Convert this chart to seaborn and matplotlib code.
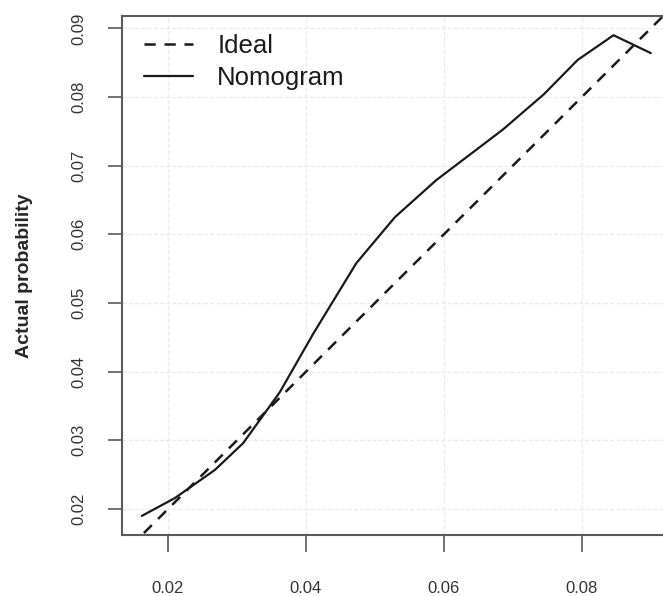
import matplotlib
matplotlib.use("Agg")
import matplotlib.pyplot as plt
import seaborn as sns
import pandas as pd

ideal_x = [0.0165, 0.0925]
ideal_y = [0.0165, 0.0925]
nomo_x = [0.0162, 0.0210, 0.0268, 0.0309, 0.0362, 0.0411, 0.0473, 0.0529,
          0.0589, 0.0652, 0.0686, 0.0745, 0.0794, 0.0846, 0.0900]
nomo_y = [0.0190, 0.0216, 0.0257, 0.0296, 0.0370, 0.0456, 0.0558, 0.0625,
          0.0679, 0.0727, 0.0753, 0.0804, 0.0854, 0.0890, 0.0864]
x_ticks = [0.02, 0.04, 0.06, 0.08]
y_ticks = [0.02, 0.03, 0.04, 0.05, 0.06, 0.07, 0.08, 0.09]
y_label = "Actual probability"

sns.set_style("white")
plt.rcParams['font.family'] = ['Liberation Sans', 'DejaVu Sans']

W, H = 663, 596
fig = plt.figure(figsize=(W / 100, H / 100), dpi=100)
left, right, top, bottom = 122, 668, 16, 535
ax = fig.add_axes([left / W, (H - bottom) / H, (right - left) / W, (bottom - top) / H])

df_ideal = pd.DataFrame({"x": ideal_x, "y": ideal_y})
df_nomo = pd.DataFrame({"x": nomo_x, "y": nomo_y})

sns.lineplot(data=df_ideal, x="x", y="y", ax=ax, color="#1a1a1a", lw=1.8,
             linestyle=(0, (4.5, 3.5)), sort=False, label="Ideal")
sns.lineplot(data=df_nomo, x="x", y="y", ax=ax, color="#1a1a1a", lw=1.6,
             sort=False, label="Nomogram")

ax.set_xlim(0.01333, 0.0925)
ax.set_ylim(0.01622, 0.0918)
ax.set_xticks(x_ticks)
ax.set_xticklabels([f"{v:.2f}" for v in x_ticks])
ax.set_yticks(y_ticks)
ax.set_yticklabels([f"{v:.2f}" for v in y_ticks], rotation=90, va="center")

ax.grid(True, color="#ebebeb", lw=1.0, linestyle=(0, (3, 1.5)))
ax.set_axisbelow(True)

for s in ["left", "bottom", "top", "right"]:
    ax.spines[s].set_color("#5a5a5a")
    ax.spines[s].set_linewidth(1.5)

ax.tick_params(axis="x", length=12, width=1.2, color="#5a5a5a", pad=21,
               labelsize=12, labelcolor="#333333", bottom=True)
ax.tick_params(axis="y", length=10, width=1.2, color="#5a5a5a", pad=16,
               labelsize=12, labelcolor="#333333", left=True)

ax.set_xlabel("")
ax.set_ylabel(y_label, fontsize=14, fontweight="bold")
ax.yaxis.set_label_coords(-(left - 33) / (right - left), 0.5)

ph = bottom - top
leg = ax.legend(loc="upper left", frameon=False, fontsize=18.5, handlelength=1.9,
                handletextpad=0.95, labelspacing=0.33, borderpad=0, borderaxespad=0,
                bbox_to_anchor=((144 - left) / (right - left), (bottom - 34) / ph))
for t in leg.get_texts():
    t.set_color("#1a1a1a")

fig.savefig("out.png", dpi=100)
